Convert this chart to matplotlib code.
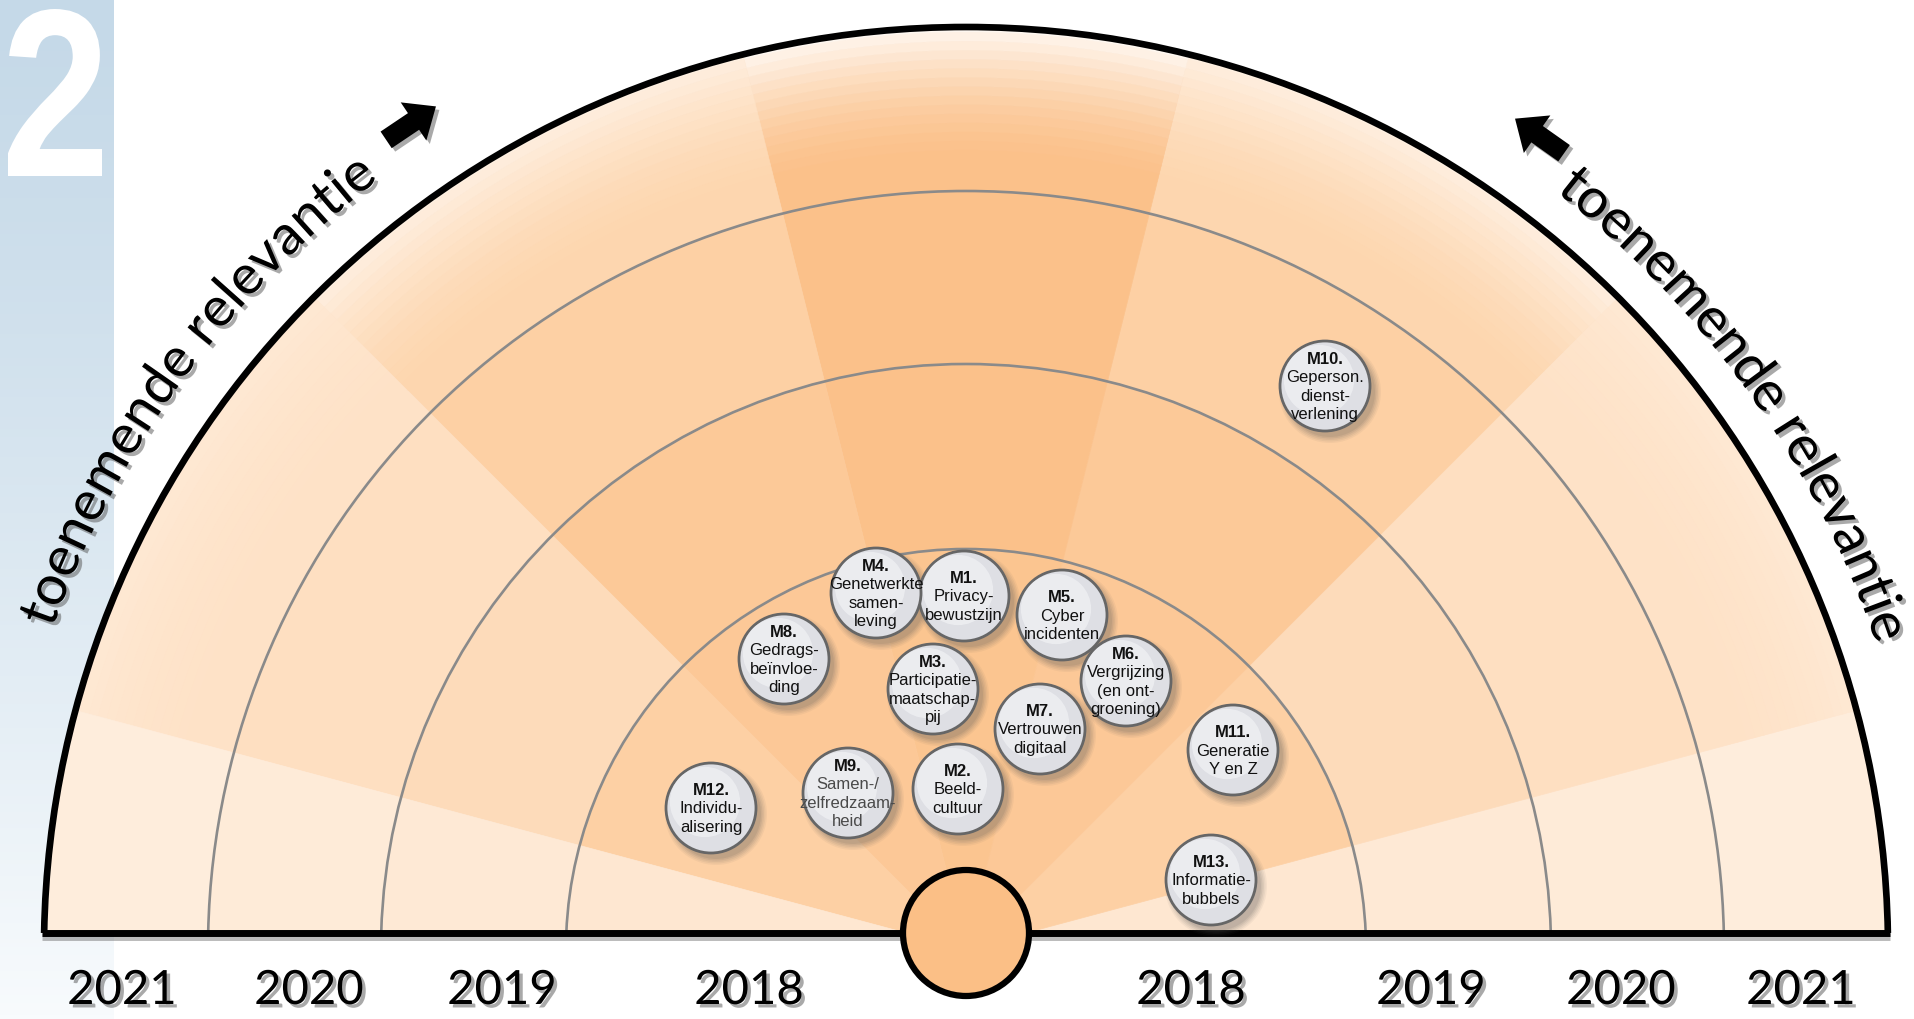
import numpy as np
import matplotlib.pyplot as plt
from matplotlib import patches, patheffects
from matplotlib.textpath import TextPath, TextToPath
from matplotlib.font_manager import FontProperties
from matplotlib.transforms import Affine2D
from matplotlib.colors import to_rgb

W, H = 1915, 1020

# rings: one per year, outer radius in px
years = ["2018", "2019", "2020", "2021"]
ring_r = [400, 585, 758, 922]
year_x_left = [749, 502, 309, 122]
year_x_right = [1191, 1431, 1621, 1801]

# angular sectors (degrees, 0 = right end of the baseline)
sector_edges = [0, 15, 45, 76, 104, 135, 165, 180]
sector_kind = [0, 1, 2, 3, 2, 1, 0]
kind_colors = {
    0: ["#FEE7D1", "#FEE9D5", "#FEEBD8", "#FEEDDC"],
    1: ["#FDD0A4", "#FDDBBA", "#FEDFC1", "#FEE2C7"],
    2: ["#FCC897", "#FCC998", "#FDD0A4", "#FDD6AF"],
    3: ["#FBC590", "#FBC18A", "#FBC18A", "#FBC18A"],
}
kind_fade = {0: 0.0, 1: 0.25, 2: 0.7, 3: 1.0}

# trend bubbles (position in picture px, from top-left)
bub_code = ["M1.", "M2.", "M3.", "M4.", "M5.", "M6.", "M7.",
            "M8.", "M9.", "M10.", "M11.", "M12.", "M13."]
bub_text = ["Privacy-\nbewustzijn", "Beeld-\ncultuur", "Participatie-\nmaatschap-\npij",
            "Genetwerkte\nsamen-\nleving", "Cyber\nincidenten", "Vergrijzing\n(en ont-\ngroening)",
            "Vertrouwen\ndigitaal", "Gedrags-\nbeïnvloe-\nding", "Samen-/\nzelfredzaam-\nheid",
            "Geperson.\ndienst-\nverlening", "Generatie\nY en Z", "Individu-\nalisering",
            "Informatie-\nbubbels"]
bub_x = [964, 958, 933, 876, 1062, 1126, 1040, 784, 848, 1325, 1233, 711, 1211]
bub_y = [597, 790, 690, 594, 616, 682, 730, 660, 794, 387, 751, 809, 881]

title_text = "toenemende relevantie"

cx, cy = 966, H - 950      # centre of the rings
base_y = H - 934           # baseline
bub_r = 45


def blend(c, t):
    c = np.array(to_rgb(c))
    return tuple(c + (1 - c) * t)


fig = plt.figure(figsize=(W / 100, H / 100), dpi=100)
ax = fig.add_axes([0, 0, 1, 1])
ax.axis("off")

# blue side panel with big "2"
top_c = np.array(to_rgb("#C5D9E8"))
bot_c = np.array(to_rgb("#F8FBFD"))
t = np.linspace(0, 1, 256) ** 1.3
grad = (top_c[None, :] * (1 - t[:, None]) + bot_c[None, :] * t[:, None])[:, None, :]
ax.imshow(grad, extent=(0, 114, 0, H), aspect="auto", zorder=0)

fp2 = FontProperties(family="Liberation Sans", weight="bold")
tp = TextPath((0, 0), "2", size=100, prop=fp2)
ext = tp.get_extents()
tr = Affine2D().translate(-ext.x0, -ext.y0).scale(94 / ext.width, 167 / ext.height).translate(8, H - 177)
ax.add_patch(patches.PathPatch(tr.transform_path(tp), fc="white", ec="none", zorder=1))

# clip region: half disc above the baseline
a0 = np.degrees(np.arcsin((base_y - cy) / ring_r[-1]))
th = np.radians(np.linspace(a0, 180 - a0, 400))
clip_pts = np.column_stack([cx + ring_r[-1] * np.cos(th), cy + ring_r[-1] * np.sin(th)])
clip = patches.Polygon(clip_pts, closed=True, fc="none", ec="none")
ax.add_patch(clip)

# background cells
for i in range(len(sector_kind)):
    t1, t2 = sector_edges[i], sector_edges[i + 1]
    kind = sector_kind[i]
    r_in = 0
    for j, r_out in enumerate(ring_r):
        col = kind_colors[kind][j]
        w = patches.Wedge((cx, cy), r_out, t1, t2, width=r_out - r_in if r_in else None,
                          fc=col, ec=col, lw=0.5, zorder=2)
        ax.add_patch(w)
        w.set_clip_path(clip)
        r_in = r_out
    # lighter towards the rim
    base = kind_colors[kind][-1]
    steps = np.linspace(790, ring_r[-1] + 4, 16)
    for a, b in zip(steps[:-1], steps[1:]):
        f = ((0.5 * (a + b) - 790) / (ring_r[-1] - 790)) ** 1.6 * kind_fade[kind] * 0.88
        col = blend(base, min(f, 0.95))
        w = patches.Wedge((cx, cy), b, t1, t2, width=b - a, fc=col, ec=col, lw=0.4, zorder=2.1)
        ax.add_patch(w)
        w.set_clip_path(clip)

# ring lines
for r in ring_r[:-1]:
    a = np.degrees(np.arcsin((base_y - cy) / r))
    ax.add_patch(patches.Arc((cx, cy), 2 * r, 2 * r, theta1=a, theta2=180 - a,
                             color="#8A8A8A", lw=1.9, zorder=3))
# rim
ax.add_patch(patches.Arc((cx, cy), 2 * ring_r[-1], 2 * ring_r[-1], theta1=a0, theta2=180 - a0,
                         color="black", lw=4.8, zorder=4))
# baseline
ax.plot([cx - ring_r[-1] - 2, cx + ring_r[-1] + 2], [base_y, base_y], color="black", lw=5,
        solid_capstyle="butt", zorder=4,
        path_effects=[patheffects.SimpleLineShadow(offset=(0, -3), shadow_color="#555555", alpha=0.4),
                      patheffects.Normal()])

# centre circle
ax.add_patch(patches.Circle((cx, base_y), 63, fc="#FBBF86", ec="black", lw=4.5, zorder=6))

# bubbles
for code, txt, bx, by in zip(bub_code, bub_text, bub_x, bub_y):
    y = H - by
    for k, al in enumerate([0.11, 0.10, 0.08, 0.07, 0.06]):
        ax.add_patch(patches.Circle((bx + 5, y - 6), bub_r + k * 1.5, fc="#555555", ec="none",
                                    alpha=al, zorder=7))
    c = patches.Circle((bx, y), bub_r, fc="#DEDFE4", ec="#666666", lw=2.0, zorder=8)
    ax.add_patch(c)
    ax.add_patch(patches.Circle((bx - 6, y + 6), bub_r * 0.78, fc="#EFF0F3", ec="none",
                                alpha=0.8, zorder=8.1))
    lines = [code] + txt.split("\n")
    n = len(lines)
    step = 18.5
    for i, ln in enumerate(lines):
        ly = y + ((n - 1) / 2 - i) * step
        col = "#111111"
        if code == "M9." and i > 0:
            col = "#4A4A4A"
        tt = ax.text(bx, ly, ln, ha="center", va="center", fontsize=12,
                     family="Liberation Sans", weight="bold" if i == 0 else "normal",
                     color=col, zorder=9)
        tt.set_clip_path(c)

# year labels
shadow = [patheffects.withSimplePatchShadow(offset=(2.5, -2.5), shadow_rgbFace="#555555", alpha=0.5)]
for yr, xl, xr in zip(years, year_x_left, year_x_right):
    for xx in (xl, xr):
        ax.text(xx, H - 992, yr, ha="center", va="center", fontsize=34, family="Lato",
                color="black", zorder=10, path_effects=shadow)

# curved labels along the rim
fp = FontProperties(family="Lato", size=40)
ttp = TextToPath()


def width_px(s):
    if not s:
        return 0.0
    w1 = ttp.get_text_width_height_descent(s + "l", fp, ismath=False)[0]
    w2 = ttp.get_text_width_height_descent("l", fp, ismath=False)[0]
    return (w1 - w2) * 100 / 72


def curved(s, mid_deg, r):
    total = width_px(s)
    start = np.radians(mid_deg) + total / 2 / r
    for i, ch in enumerate(s):
        if ch == " ":
            continue
        pos = 0.5 * (width_px(s[:i]) + width_px(s[:i + 1]))
        a = start - pos / r
        ax.text(cx + r * np.cos(a), cy + r * np.sin(a), ch, fontproperties=fp,
                rotation=np.degrees(a) - 90, rotation_mode="anchor",
                ha="center", va="baseline", color="black", zorder=10, path_effects=shadow)


curved(title_text, 144.0, 968)
curved(title_text, 35.3, 960)

# arrows
for ang, turn in [(123.9, -90), (54.8, 90)]:
    a = np.radians(ang)
    px, py = cx + 995 * np.cos(a), cy + 995 * np.sin(a)
    d = np.radians(ang + turn)
    ux, uy = np.cos(d), np.sin(d)
    ax.add_patch(patches.FancyArrow(px - 30 * ux, py - 30 * uy, 60 * ux, 60 * uy, width=20,
                                    head_width=46, head_length=27, length_includes_head=True,
                                    fc="black", ec="none", zorder=10, path_effects=shadow))

ax.set_xlim(0, W)
ax.set_ylim(0, H)
fig.savefig("out.png", dpi=100)
